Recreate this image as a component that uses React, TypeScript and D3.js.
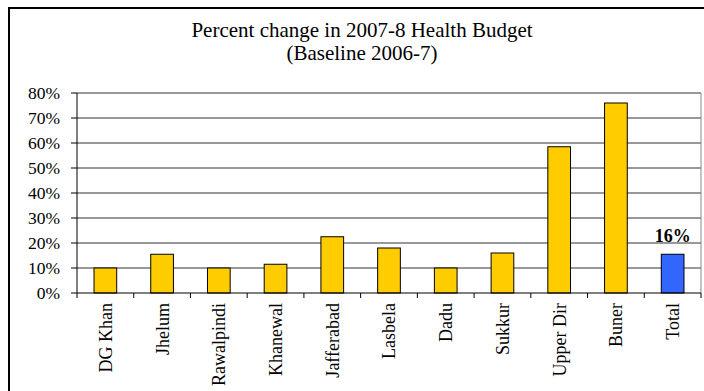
import React from "react";
import * as d3 from "d3";

const categories = ["DG Khan", "Jhelum", "Rawalpindi", "Khanewal", "Jafferabad", "Lasbela", "Dadu", "Sukkur", "Upper Dir", "Buner", "Total"];
const values = [0.10, 0.155, 0.10, 0.115, 0.225, 0.18, 0.10, 0.16, 0.585, 0.76, 0.155];
const yTicks = [0, 0.1, 0.2, 0.3, 0.4, 0.5, 0.6, 0.7, 0.8];
const titleLines = ["Percent change in 2007-8 Health Budget", "(Baseline 2006-7)"];
const totalLabel = "16%";

const W = 704, H = 391;
const plot = { left: 77, right: 701, top: 93, bottom: 293 };
const FONT = "Liberation Serif, DejaVu Serif, serif";

export default function App() {
  const x = d3.scaleBand<string>().domain(categories).range([plot.left, plot.right]).paddingInner(0.6).paddingOuter(0.3);
  const xb = d3.scaleBand<string>().domain(categories).range([plot.left, plot.right]);
  const y = d3.scaleLinear().domain([0, 0.8]).range([plot.bottom, plot.top]);
  const fmt = d3.format(".0%");
  const bounds = d3.range(categories.length + 1).map((i) => plot.left + i * xb.step());
  const last = categories.length - 1;

  return (
    <svg width={W} height={H} style={{ position: "absolute", left: 0, top: 0, background: "#fff", fontFamily: FONT }}>
      <rect x={0} y={0} width={W} height={H} fill="#fff" />
      <rect x={9} y={8} width={740} height={420} fill="none" stroke="#000" strokeWidth={2} />
      {titleLines.map((t, i) => (
        <text key={t} x={362} y={37 + i * 23} textAnchor="middle" fontSize={21} fill="#000" style={{ fontFamily: FONT }}>{t}</text>
      ))}
      {yTicks.map((t) => (
        <g key={t}>
          {t > 0 && <line x1={plot.left} x2={plot.right} y1={y(t)} y2={y(t)} stroke="#333" strokeWidth={1} />}
          <line x1={plot.left - 6} x2={plot.left} y1={y(t)} y2={y(t)} stroke="#000" />
          <text x={60} y={y(t) + 6} textAnchor="end" fontSize={17.5} fill="#000" style={{ fontFamily: FONT }}>{fmt(t)}</text>
        </g>
      ))}
      <line x1={plot.right} x2={plot.right} y1={plot.top} y2={plot.bottom} stroke="#888" />
      {categories.map((c, i) => (
        <rect key={c} x={x(c)} y={y(values[i])} width={x.bandwidth()} height={plot.bottom - y(values[i])}
          fill={i === last ? "#3366FF" : "#FFCC00"} stroke="#000" strokeWidth={1} />
      ))}
      <line x1={plot.left} x2={plot.left} y1={plot.top} y2={plot.bottom} stroke="#000" />
      <line x1={plot.left} x2={plot.right} y1={plot.bottom} y2={plot.bottom} stroke="#000" />
      {bounds.map((b, i) => (
        <line key={i} x1={b} x2={b} y1={plot.bottom} y2={plot.bottom + 5} stroke="#000" />
      ))}
      {categories.map((c) => (
        <text key={c} transform={`translate(${(xb(c) ?? 0) + xb.bandwidth() / 2},${plot.bottom + 10}) rotate(-90)`}
          textAnchor="end" dy="0.36em" fontSize={18} fill="#000" style={{ fontFamily: FONT }}>{c}</text>
      ))}
      <text x={(x(categories[last]) ?? 0) + x.bandwidth() / 2} y={y(values[last]) - 12} textAnchor="middle"
        fontSize={18} fontWeight="bold" fill="#000" style={{ fontFamily: FONT }}>{totalLabel}</text>
    </svg>
  );
}
